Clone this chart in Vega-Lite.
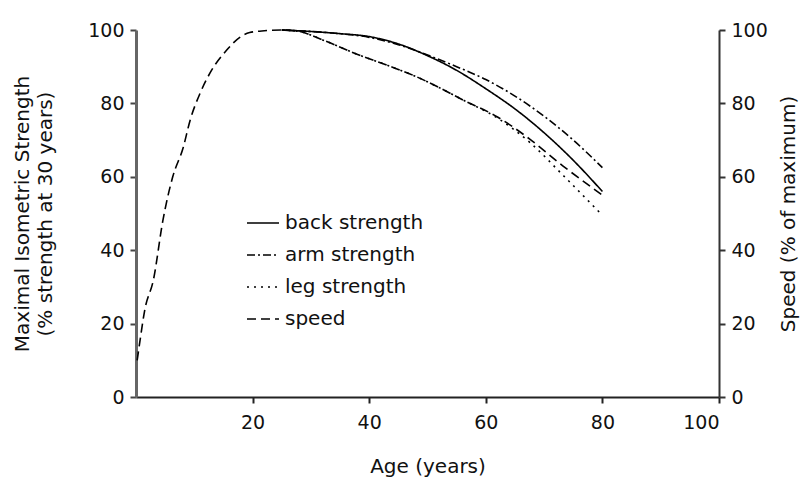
{
  "$schema": "https://vega.github.io/schema/vega-lite/v6.json",
  "width": 583,
  "height": 367,
  "autosize": {"type": "none"},
  "padding": {"left": 136, "top": 30, "right": 84, "bottom": 80},
  "background": "white",
  "config": {
    "font": "DejaVu Sans",
    "view": {"stroke": null},
    "axis": {"grid": false, "labelFontSize": 19, "titleFontSize": 20, "titleFontWeight": "normal", "labelColor": "#111", "titleColor": "#111", "tickSize": 6, "tickWidth": 2, "domainWidth": 2}
  },
  "data": {"values": [
    {"age": 0.2, "value": 10, "series": "speed"},
    {"age": 0.7, "value": 15.5, "series": "speed"},
    {"age": 1.5, "value": 23.7, "series": "speed"},
    {"age": 3, "value": 32, "series": "speed"},
    {"age": 4.6, "value": 48, "series": "speed"},
    {"age": 6.3, "value": 60, "series": "speed"},
    {"age": 8.1, "value": 68, "series": "speed"},
    {"age": 9.3, "value": 75.5, "series": "speed"},
    {"age": 11, "value": 82.8, "series": "speed"},
    {"age": 12.7, "value": 88.3, "series": "speed"},
    {"age": 15.6, "value": 94.6, "series": "speed"},
    {"age": 17.8, "value": 98, "series": "speed"},
    {"age": 19.5, "value": 99.3, "series": "speed"},
    {"age": 22, "value": 99.8, "series": "speed"},
    {"age": 25, "value": 100, "series": "speed"},
    {"age": 28, "value": 99.6, "series": "speed"},
    {"age": 32, "value": 97.3, "series": "speed"},
    {"age": 37.9, "value": 93.4, "series": "speed"},
    {"age": 43.6, "value": 90.1, "series": "speed"},
    {"age": 48.2, "value": 87.2, "series": "speed"},
    {"age": 52, "value": 84.3, "series": "speed"},
    {"age": 56, "value": 81, "series": "speed"},
    {"age": 62, "value": 76.3, "series": "speed"},
    {"age": 67.6, "value": 70.2, "series": "speed"},
    {"age": 73.2, "value": 63, "series": "speed"},
    {"age": 80, "value": 55, "series": "speed"},
    {"age": 25, "value": 100, "series": "back strength"},
    {"age": 30, "value": 99.6, "series": "back strength"},
    {"age": 35, "value": 99, "series": "back strength"},
    {"age": 40, "value": 98.2, "series": "back strength"},
    {"age": 45, "value": 96.2, "series": "back strength"},
    {"age": 50, "value": 93, "series": "back strength"},
    {"age": 55, "value": 89, "series": "back strength"},
    {"age": 60, "value": 84, "series": "back strength"},
    {"age": 65, "value": 78.5, "series": "back strength"},
    {"age": 70, "value": 72, "series": "back strength"},
    {"age": 75, "value": 64.5, "series": "back strength"},
    {"age": 80, "value": 56, "series": "back strength"},
    {"age": 25, "value": 100, "series": "arm strength"},
    {"age": 30, "value": 99.6, "series": "arm strength"},
    {"age": 35, "value": 99, "series": "arm strength"},
    {"age": 40, "value": 98, "series": "arm strength"},
    {"age": 45, "value": 96, "series": "arm strength"},
    {"age": 50, "value": 93.2, "series": "arm strength"},
    {"age": 55, "value": 90, "series": "arm strength"},
    {"age": 60, "value": 86.5, "series": "arm strength"},
    {"age": 65, "value": 82, "series": "arm strength"},
    {"age": 70, "value": 76.5, "series": "arm strength"},
    {"age": 75, "value": 70, "series": "arm strength"},
    {"age": 80, "value": 62.5, "series": "arm strength"},
    {"age": 25, "value": 100, "series": "leg strength"},
    {"age": 28, "value": 99.6, "series": "leg strength"},
    {"age": 32, "value": 97.3, "series": "leg strength"},
    {"age": 37.9, "value": 93.4, "series": "leg strength"},
    {"age": 43.6, "value": 90.1, "series": "leg strength"},
    {"age": 48.2, "value": 87.2, "series": "leg strength"},
    {"age": 52, "value": 84.3, "series": "leg strength"},
    {"age": 56, "value": 81, "series": "leg strength"},
    {"age": 62, "value": 76, "series": "leg strength"},
    {"age": 67.6, "value": 69.3, "series": "leg strength"},
    {"age": 73.2, "value": 60.5, "series": "leg strength"},
    {"age": 80, "value": 49.5, "series": "leg strength"}
  ]},
  "encoding": {
    "x": {"field": "age", "type": "quantitative", "scale": {"domain": [0, 100], "nice": false}, "axis": {"title": "Age (years)", "values": [20, 40, 60, 80, 100], "labelPadding": 10, "titlePadding": 24, "domainColor": "#222", "tickColor": "#222"}},
    "strokeDash": {"field": "series", "type": "nominal", "sort": ["back strength", "arm strength", "leg strength", "speed"],
      "scale": {"domain": ["back strength", "arm strength", "leg strength", "speed"], "range": [[1, 0], [8, 3, 2, 3], [2, 5], [9, 5]]},
      "legend": {"title": null, "orient": "none", "legendX": 110, "legendY": 176, "symbolType": "stroke", "symbolSize": 1024, "symbolStrokeWidth": 1.6, "symbolStrokeColor": "black", "labelFontSize": 20, "labelColor": "#111", "labelOffset": 5, "rowPadding": 5, "padding": 0}}
  },
  "layer": [
    {
      "transform": [{"filter": "datum.series != 'speed'"}],
      "mark": {"type": "line", "interpolate": "monotone", "color": "black", "strokeWidth": 1.6},
      "encoding": {
        "y": {"field": "value", "type": "quantitative", "scale": {"domain": [0, 100], "nice": false},
          "axis": {"orient": "left", "title": ["Maximal Isometric Strength", "(% strength at 30 years)"], "titleLineHeight": 23, "values": [0, 20, 40, 60, 80, 100], "labelPadding": 6, "titlePadding": 32, "domainColor": "#666", "tickColor": "#444", "domainWidth": 3}}
      }
    },
    {
      "transform": [{"filter": "datum.series == 'speed'"}],
      "mark": {"type": "line", "interpolate": "monotone", "color": "black", "strokeWidth": 1.6},
      "encoding": {
        "y": {"field": "value", "type": "quantitative", "scale": {"domain": [0, 100], "nice": false},
          "axis": {"orient": "right", "title": "Speed (% of maximum)", "titleAngle": -90, "values": [0, 20, 40, 60, 80, 100], "labelPadding": 6, "titlePadding": 31, "domainColor": "#333", "tickColor": "#333"}}
      }
    }
  ],
  "resolve": {"scale": {"y": "independent"}}
}
